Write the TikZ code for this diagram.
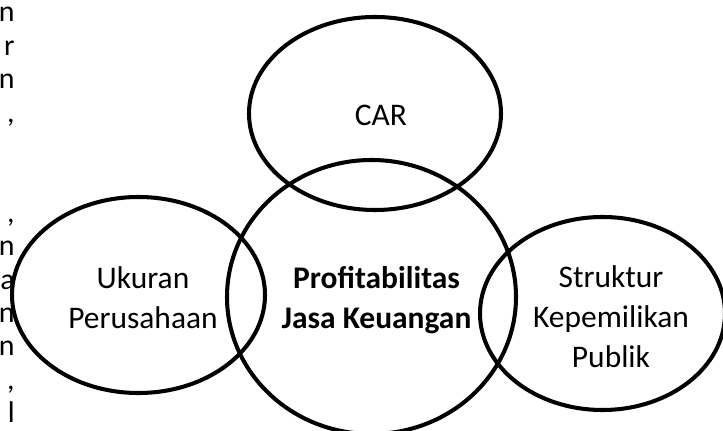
\documentclass[tikz,border=0pt]{standalone}
\usepackage{fontspec}
\setmainfont{Carlito}
\begin{document}
\begin{tikzpicture}[
  ring/.style={line width=2.3pt},
  lbl/.style={font=\fontsize{17.9}{22.7}\selectfont,align=center},
  frag/.style={font=\fontsize{17}{20}\selectfont,anchor=base east,inner sep=0pt}
]
\useasboundingbox (0,0) rectangle (14.46,8.6);
\clip (0,0) rectangle (14.46,8.6);

% Ellipses
\draw[ring] (7.50,6.33) ellipse (2.52 and 1.93);
\draw[ring] (7.43,2.66) ellipse (2.89 and 2.74);
\draw[ring] (2.77,2.70) ellipse (2.53 and 1.96);
\draw[ring] (12.05,2.33) ellipse (2.45 and 1.93);

% Labels
\node[lbl] (car) at (7.62,6.30) {CAR};
\node[lbl] (ukuran) at (2.86,2.64) {Ukuran\\Perusahaan};
\node[lbl,font=\fontsize{17.9}{22.7}\selectfont\bfseries] (profit) at (7.53,2.60) {Profitabilitas\\Jasa Keuangan};
\node[lbl] (struktur) at (12.22,2.26) {Struktur\\Kepemilikan\\Publik};

% Cut-off text at left edge
\foreach \k/\c in {0/n,1/r,2/n,3/{,},6/{,},7/n,8/a,9/n,10/n,11/{,},12/l}
  \node[frag] (frag\k) at (0.30,{8.16-0.668*\k}) {\c};

\end{tikzpicture}
\end{document}
